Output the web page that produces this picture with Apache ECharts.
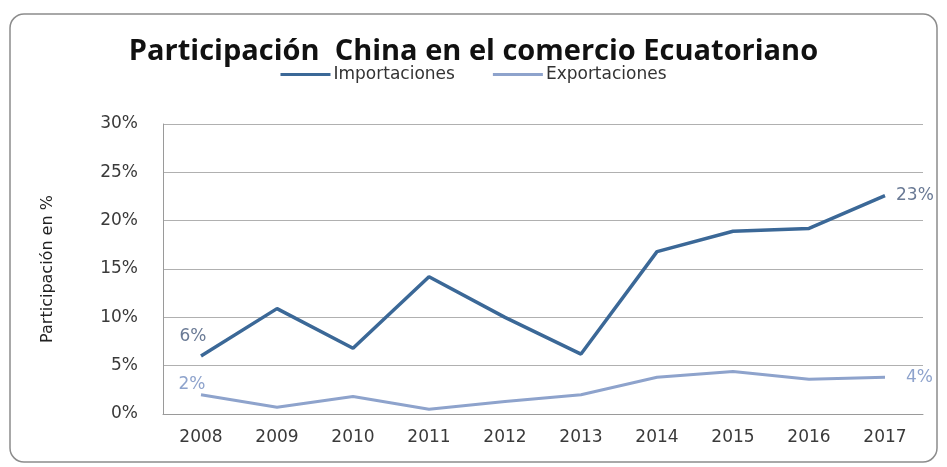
<!DOCTYPE html>
<html><head><meta charset="utf-8">
<script src="https://cdn.jsdelivr.net/npm/echarts@6/dist/echarts.min.js"></script>
<style>html,body{margin:0;padding:0;background:#fff}#c{width:947px;height:467px}</style>
</head><body><div id="c"></div>
<script>
const years = ['2008','2009','2010','2011','2012','2013','2014','2015','2016','2017'];
const importaciones = [6.0, 10.9, 6.8, 14.2, 10.0, 6.2, 16.8, 18.9, 19.2, 22.6];
const exportaciones = [2.0, 0.7, 1.8, 0.5, 1.3, 2.0, 3.8, 4.4, 3.6, 3.8];
const yTicks = [0, 5, 10, 15, 20, 25, 30];

const font = '"DejaVu Sans", sans-serif';
const titleFont = '"Open Sans", sans-serif';
const chart = echarts.init(document.getElementById('c'), null, {renderer: 'canvas'});

function withEndLabels(values, color, firstOff, lastDist) {
  const n = values.length;
  const base = {show: true, color: color, fontSize: 17, fontFamily: font, formatter: p => Math.round(p.value) + '%'};
  return values.map((v, i) => {
    if (i === 0) return {value: v, label: Object.assign({position: 'top', offset: firstOff}, base)};
    if (i === n - 1) return {value: v, label: Object.assign({position: 'right', distance: lastDist}, base)};
    return v;
  });
}

chart.setOption({
  animation: false,
  graphic: [{
    type: 'rect', shape: {x: 10, y: 14, width: 927, height: 448, r: 14},
    style: {fill: 'none', stroke: '#8c8c8c', lineWidth: 1.5}, z: -1
  }],
  title: {
    text: 'Participación  China en el comercio Ecuatoriano',
    left: 'center', top: 32,
    textStyle: {fontFamily: titleFont, fontSize: 29, fontWeight: 'bold', color: '#111'}
  },
  legend: {
    top: 61, left: 'center', itemWidth: 50, itemHeight: 3, itemGap: 38,
    icon: 'rect',
    textStyle: {fontFamily: font, fontSize: 17, color: '#333', padding: [0, 0, 0, -2]},
    data: ['Importaciones', 'Exportaciones']
  },
  grid: {left: 163, right: 24, top: 124, bottom: 53},
  xAxis: {
    type: 'category', data: years, boundaryGap: true,
    axisLine: {lineStyle: {color: '#9a9a9a'}},
    axisTick: {show: false},
    axisLabel: {fontFamily: font, fontSize: 17, color: '#3a3a3a', margin: 15}
  },
  yAxis: {
    type: 'value', min: yTicks[0], max: yTicks[yTicks.length - 1], interval: 5,
    name: 'Participación en %', nameLocation: 'middle', nameGap: 107, nameRotate: 90,
    nameTextStyle: {fontFamily: font, fontSize: 16, color: '#222'},
    axisLine: {show: true, lineStyle: {color: '#9a9a9a'}},
    axisTick: {show: false},
    axisLabel: {fontFamily: font, fontSize: 17, color: '#3a3a3a', margin: 25, formatter: v => v + '%'},
    splitLine: {lineStyle: {color: '#b0b0b0', width: 1}}
  },
  series: [{
    name: 'Importaciones', type: 'line',
    data: withEndLabels(importaciones, '#6a7a95', [-8, -6], 11),
    symbol: 'circle', symbolSize: 0, showSymbol: true, color: '#3b6897',
    lineStyle: {width: 3.5, color: '#3b6897'}
  }, {
    name: 'Exportaciones', type: 'line',
    data: withEndLabels(exportaciones, '#8ea3cc', [-9, 3], 21),
    symbol: 'circle', symbolSize: 0, showSymbol: true, color: '#8ea3cc',
    lineStyle: {width: 3, color: '#8ea3cc'}
  }]
});
</script></body></html>
